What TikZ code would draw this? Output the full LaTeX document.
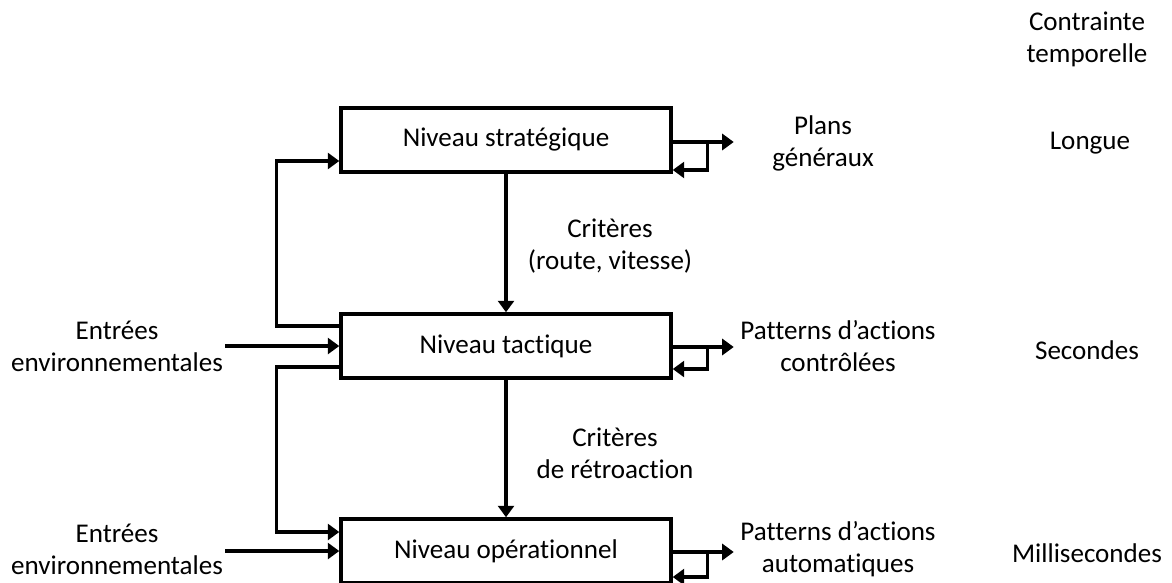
\documentclass[tikz,border=0pt]{standalone}
\usepackage{fontspec}
\setmainfont{Carlito}[Ligatures=NoCommon]
\usetikzlibrary{arrows.meta,positioning}

\tikzset{
  niveau/.style={draw, line width=2pt, minimum width=6.6cm, minimum height=1.28cm, inner sep=0pt},
  fleche/.style={line width=2pt, -{Triangle[length=2.3mm,width=3.2mm]}},
  legende/.style={align=center, inner sep=1pt}
}

\begin{document}
\begin{tikzpicture}[x=0.02cm, y=-0.02cm, font=\fontsize{15.4}{18.2}\selectfont]
\useasboundingbox (0,0) rectangle (1172,582);

% les trois niveaux
\node[niveau] (strat) at (506,140) {Niveau stratégique};
\node[niveau] (tact) at (506,346) {Niveau tactique};
\node[niveau] (oper) at (506,551) {Niveau opérationnel};

% textes
\node[legende] (plans) at (823,143) {Plans\\généraux};
\node[legende] (crit1) at (610,246) {Critères\\(route, vitesse)};
\node[legende] (crit2) at (615,453) {Critères\\de rétroaction};
\node[legende] (entree1) at (117,346) {Entrées\\environnementales};
\node[legende] (entree2) at (117,549) {Entrées\\environnementales};
\node[legende] (pattern1) at (838,346) {Patterns d’actions\\contrôlées};
\node[legende] (pattern2) at (838,549) {Patterns d’actions\\automatiques};

% contrainte temporelle
\node[legende] (contrainte) at (1087,39) {Contrainte\\temporelle};
\node[legende] (longue) at (1090,143) {Longue};
\node[legende] (secondes) at (1087,350) {Secondes};
\node[legende] (milli) at (1087,553) {Millisecondes};

% descente des criteres
\draw[fleche] (strat) -- (tact);
\draw[fleche] (tact) -- (oper);

% entrees
\draw[fleche] (entree1.east |- tact.west) -- (tact.west);
\draw[fleche] (entree2.east |- oper.west) -- (oper.west);

% retours a gauche
\draw[fleche] ([yshift=4mm]tact.west) -- ++(-63,0) |- ([yshift=-4.2mm]strat.west);
\draw[fleche] ([yshift=-4.2mm]tact.west) -- ++(-63,0) |- ([yshift=3.8mm]oper.west);

% sorties et boucles a droite
\foreach \n/\s/\r in {strat/-0.04/-0.6, tact/-0.02/-0.46, oper/-0.02/-0.52}{
  \coordinate (sortie-\n) at ([yshift=\s cm]\n.east);
  \draw[fleche] (sortie-\n) -- ++(61,0);
  \draw[fleche] ([xshift=7mm]sortie-\n) |- ([yshift=\r cm]\n.east);
}

\end{tikzpicture}
\end{document}
